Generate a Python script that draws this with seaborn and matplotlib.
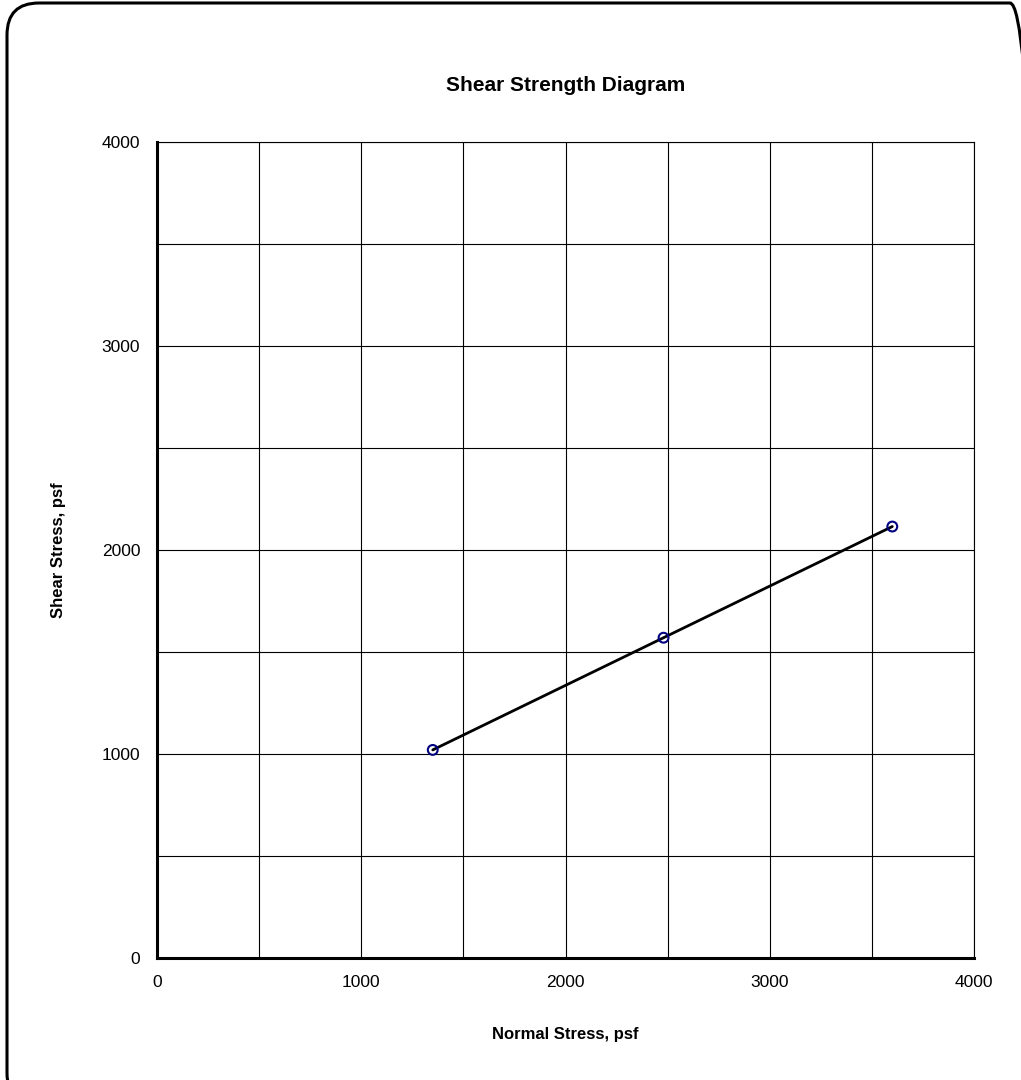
import matplotlib
matplotlib.use('Agg')
import matplotlib.pyplot as plt
import seaborn as sns
import pandas as pd
from matplotlib.patches import FancyBboxPatch
from matplotlib.ticker import MultipleLocator

# Dados
normal_stress = [1350, 2480, 3600]
shear_stress = [1020, 1570, 2115]
ticks = [0, 1000, 2000, 3000, 4000]

df = pd.DataFrame({'Normal': normal_stress, 'Shear': shear_stress})

sns.set_style('white')
plt.rcParams['font.family'] = ['Liberation Sans', 'DejaVu Sans']
plt.rcParams['text.color'] = 'black'
plt.rcParams['xtick.color'] = 'black'
plt.rcParams['ytick.color'] = 'black'
plt.rcParams['axes.labelcolor'] = 'black'

fig = plt.figure(figsize=(10.21, 10.80), dpi=100)

# Moldura arredondada (em polegadas, para cantos circulares)
frame = FancyBboxPatch((0.07, -0.25), 10.35, 11.02,
                       boxstyle='round,pad=0,rounding_size=0.32',
                       transform=fig.dpi_scale_trans, fill=False,
                       edgecolor='black', linewidth=2.2, clip_on=False)
fig.patches.append(frame)

ax = fig.add_axes([157 / 1021, 1 - 958 / 1080, 817 / 1021, 816 / 1080])

sns.lineplot(data=df, x='Normal', y='Shear', color='black', linewidth=2, ax=ax, zorder=3)
sns.scatterplot(data=df, x='Normal', y='Shear', marker='o', s=50, facecolor='none',
                edgecolor='#000080', linewidth=1.5, ax=ax, zorder=4)

ax.set_xlim(0, 4000)
ax.set_ylim(0, 4000)
ax.set_xticks(ticks)
ax.set_yticks(ticks)
ax.xaxis.set_minor_locator(MultipleLocator(500))
ax.yaxis.set_minor_locator(MultipleLocator(500))
ax.grid(True, which='both', color='black', linewidth=0.8)
ax.tick_params(which='both', length=0, labelsize=12.5, pad=12)

for s in ['top', 'right']:
    ax.spines[s].set_linewidth(0.8)
    ax.spines[s].set_color('black')
for s in ['left', 'bottom']:
    ax.spines[s].set_linewidth(2.2)
    ax.spines[s].set_color('black')
    ax.spines[s].set_zorder(5)

ax.set_title('Shear Strength Diagram', fontsize=15, fontweight='bold', pad=37)
ax.set_xlabel('Normal Stress, psf', fontsize=12, fontweight='bold', labelpad=27)
ax.set_ylabel('Shear Stress, psf', fontsize=12, fontweight='bold', labelpad=26)

plt.savefig('out.png', dpi=100)
plt.close()
